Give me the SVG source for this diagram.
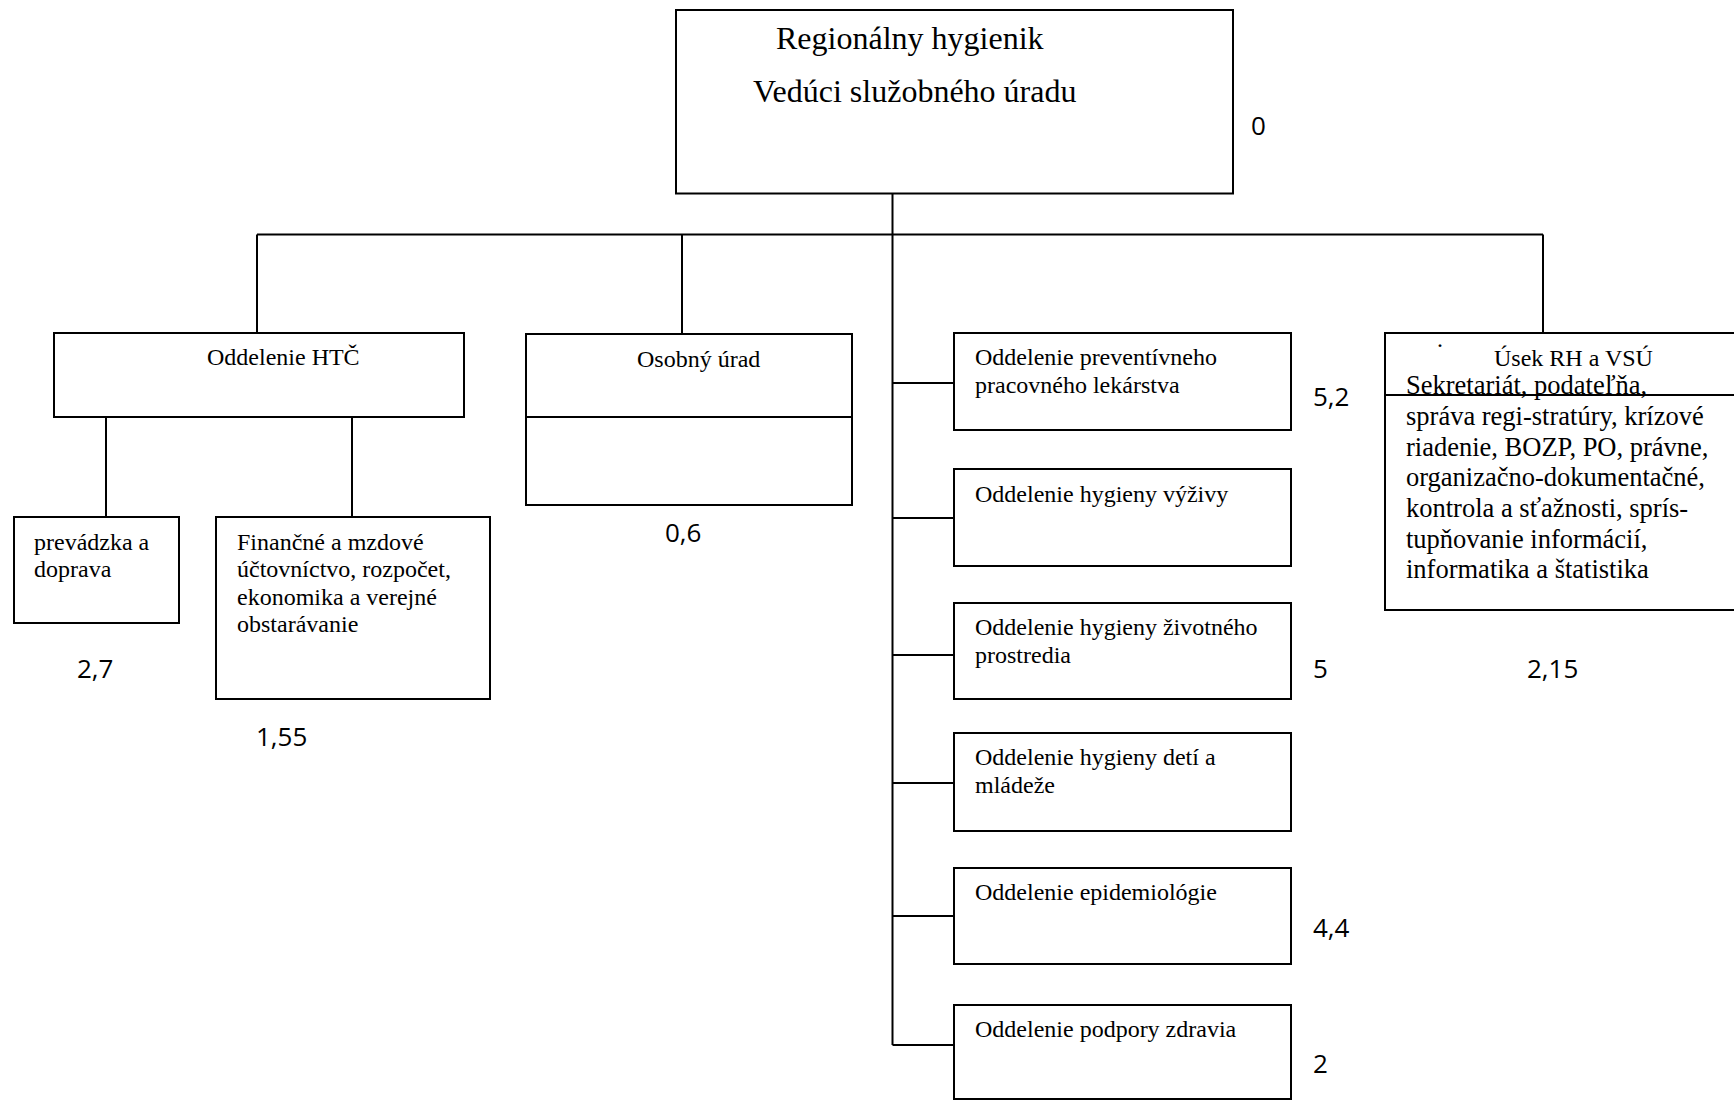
<svg xmlns="http://www.w3.org/2000/svg" width="1734" height="1101" viewBox="0 0 1734 1101">
<style>
.box{fill:#fff;stroke:#000;stroke-width:2}
.ln{fill:none;stroke:#000;stroke-width:2}
.t{font-family:"Liberation Serif","Times New Roman",serif;font-size:24px;fill:#000}
.tb{font-family:"Liberation Serif","Times New Roman",serif;font-size:26.5px;fill:#000}
.th{font-family:"Liberation Serif","Times New Roman",serif;font-size:32px;fill:#000}
.n{font-family:"Open Sans","Noto Sans",sans-serif;font-size:26px;fill:#000}
</style>
<rect width="1734" height="1101" fill="#fff"/>
<g id="connectors">
<path class="ln" d="M892.5 193.5V1045M257 234.5H1543M257 234.5V333M682 234.5V334M1543 234.5V333"/>
<path class="ln" d="M892.5 383H954M892.5 518H954M892.5 655H954M892.5 783H954M892.5 916H954M892.5 1045H954"/>
<path class="ln" d="M106 417V517M352 417V517"/>
</g>
<g id="n-root">
<rect class="box" x="676" y="10" width="557" height="183.5"/>
<text class="th" x="776" y="49">Regionálny hygienik</text>
<text class="th" x="753" y="102">Vedúci služobného úradu</text>
<text class="n" x="1251" y="135">0</text>
</g>
<g id="n-htc">
<rect class="box" x="54" y="333" width="410" height="84"/>
<text class="t" x="207" y="365">Oddelenie HTČ</text>
</g>
<g id="n-prevadzka">
<rect class="box" x="14" y="517" width="165" height="106"/>
<text class="t" x="34" y="550">prevádzka a</text>
<text class="t" x="34" y="577">doprava</text>
<text class="n" x="77" y="678">2,7</text>
</g>
<g id="n-financne">
<rect class="box" x="216" y="517" width="274" height="182"/>
<text class="t" x="237" y="550">Finančné a mzdové</text>
<text class="t" x="237" y="577">účtovníctvo, rozpočet,</text>
<text class="t" x="237" y="605">ekonomika a verejné</text>
<text class="t" x="237" y="632">obstarávanie</text>
<text class="n" x="256" y="746">1,55</text>
</g>
<g id="n-osobny">
<rect class="box" x="526" y="334" width="326" height="171"/>
<path class="ln" d="M526 417H852"/>
<text class="t" x="637" y="367">Osobný úrad</text>
<text class="n" x="665" y="542">0,6</text>
</g>
<g id="n-ppl">
<rect class="box" x="954" y="333" width="337" height="97"/>
<text class="t" x="975" y="365">Oddelenie preventívneho</text>
<text class="t" x="975" y="393">pracovného lekárstva</text>
<text class="n" x="1313" y="406">5,2</text>
</g>
<g id="n-vyziva">
<rect class="box" x="954" y="469" width="337" height="97"/>
<text class="t" x="975" y="502">Oddelenie hygieny výživy</text>
</g>
<g id="n-zp">
<rect class="box" x="954" y="603" width="337" height="96"/>
<text class="t" x="975" y="635">Oddelenie hygieny životného</text>
<text class="t" x="975" y="663">prostredia</text>
<text class="n" x="1313" y="678">5</text>
</g>
<g id="n-deti">
<rect class="box" x="954" y="733" width="337" height="98"/>
<text class="t" x="975" y="765">Oddelenie hygieny detí a</text>
<text class="t" x="975" y="793">mládeže</text>
</g>
<g id="n-epid">
<rect class="box" x="954" y="868" width="337" height="96"/>
<text class="t" x="975" y="900">Oddelenie epidemiológie</text>
<text class="n" x="1313" y="937">4,4</text>
</g>
<g id="n-podpora">
<rect class="box" x="954" y="1005" width="337" height="94"/>
<text class="t" x="975" y="1037">Oddelenie podpory zdravia</text>
<text class="n" x="1313" y="1073">2</text>
</g>
<g id="n-usek">
<rect class="box" x="1385" y="333" width="360" height="277"/>
<text class="t" x="1437" y="347">.</text>
<text class="t" x="1494" y="366">Úsek RH a VSÚ</text>
<text class="tb" x="1406" y="394">Sekretariát, podateľňa,</text>
<path class="ln" d="M1385 395H1734"/>
<text class="tb" x="1406" y="425">správa regi-stratúry, krízové</text>
<text class="tb" x="1406" y="456">riadenie, BOZP, PO, právne,</text>
<text class="tb" x="1406" y="486">organizačno-dokumentačné,</text>
<text class="tb" x="1406" y="517">kontrola a sťažnosti, sprís-</text>
<text class="tb" x="1406" y="548">tupňovanie informácií,</text>
<text class="tb" x="1406" y="578">informatika a štatistika</text>
<text class="n" x="1527" y="678">2,15</text>
</g>
</svg>
